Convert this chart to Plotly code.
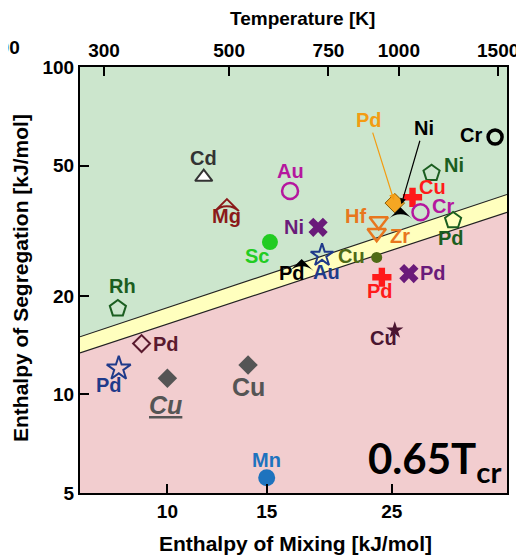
import numpy as np
import plotly.graph_objects as go

# ---------------- data ----------------
labels = ["Cd", "Mg", "Au", "Ni", "Sc", "Pd", "Au", "Cu", "Hf", "Zr",
          "Pd", "Ni", "Cu", "Cr", "Ni", "Cr", "Pd", "Pd", "Pd", "Cu",
          "Rh", "Pd", "Pd", "Cu", "Cu", "Mn"]
h_mix = [11.6, 12.75, 16.5, 18.5, 15.2, 17.3, 18.8, 23.5, 23.7, 23.5,
         25.3, 25.9, 27.2, 28.1, 29.4, 38.1, 32.1, 24.0, 26.8, 25.3,
         8.17, 9.0, 8.2, 10.0, 13.9, 15.0]
h_seg = [46.1, 39.5, 41.8, 32.4, 29.2, 25.9, 26.6, 26.2, 33.8, 31.1,
         38.4, 37.3, 40.0, 36.0, 47.4, 61.1, 34.0, 22.8, 23.4, 15.7,
         18.3, 14.3, 12.0, 11.2, 12.3, 5.57]

band_x = [7.0, 40.0]
band_upper = [15.0, 40.8]
band_lower = [13.4, 36.0]

x_ticks = [10, 15, 25]
y_ticks = [5, 10, 20, 50, 100]
t_ticks = [300, 500, 750, 1000, 1500]

# ---------------- styles ----------------
X_RANGE = [7.0, 40.0]
Y_RANGE = [5.0, 100.0]
T_RANGE = [272.0, 1555.0]

GREEN = "rgb(204,230,205)"
YELLOW = "rgb(255,255,190)"
PINK = "rgb(242,205,207)"

symbols = ["triangle-up", "arrow-wide-open", "circle-open", "x", "circle", "arrow-wide",
           "star-open", "circle", "triangle-down-open", "triangle-down-open",
           "diamond", "arrow-wide", "cross", "circle-open", "pentagon-open", "circle-open",
           "pentagon-open", "cross", "x", "star", "pentagon-open", "diamond-open",
           "star-open", "diamond", "diamond", "circle"]
mcolors = ["white", "#8B1A1A", "#B5179E", "#6A1B7A", "#22CC22", "black",
           "#1F3A8A", "#4F6B16", "#E8771E", "#E8771E",
           "#F5A623", "black", "#FF1A1A", "#B5179E", "#1B5E20", "black",
           "#1B5E20", "#FF1A1A", "#6A1B7A", "#4A1530", "#1B5E20", "#5A1A2E",
           "#1F3A8A", "#555555", "#555555", "#1E73BE"]
lcolors = ["#333333", "#8B1A1A", "#B5179E", "#6A1B7A", "#22CC22", "black",
           "#1F3A8A", "#4F6B16", "#E8771E", "#E8771E",
           "#8a5a00", "black", "#FF1A1A", "#B5179E", "#1B5E20", "black",
           "#1B5E20", "#FF1A1A", "#6A1B7A", "#4A1530", "#1B5E20", "#5A1A2E",
           "#1F3A8A", "#555555", "#555555", "#1E73BE"]
msizes = [15, 17, 16, 17, 16, 17, 17, 11, 16, 16, 15, 17, 16, 16, 17, 14,
          17, 16, 17, 13, 17, 13, 18, 15, 15, 17]
lwidths = [2, 2, 2.5, 0, 0, 0, 2, 0, 2.5, 2.5, 1, 0, 0, 2.5, 2, 3.5,
           2, 0, 0, 0, 2, 2, 2, 0, 0, 0]
tcolors = ["#333333", "#8B1A1A", "#B5179E", "#6A1B7A", "#22CC22", "black",
           "#1F3A8A", "#4F6B16", "#E8771E", "#E8771E",
           "#F39C12", "black", "#FF1A1A", "#B5179E", "#1B5E20", "black",
           "#1B5E20", "#FF1A1A", "#6A1B7A", "#4A1530", "#1B5E20", "#5A1A2E",
           "#1F3A8A", "#555555", "#555555", "#1E73BE"]
# label offsets in screen pixels (dx right, dy down)
offsets = [(0, -19), (0, 17), (0, -20), (-24, 0), (-13, 14), (-10, 14),
           (4, 17), (-25, -1), (-23, -5), (23, 3),
           None, None, (20, -10), (23, -6), (22, -8), (-24, -2),
           (-2, 18), (-2, 14), (24, -1), (-11, 8), (5, -23), (24, 0),
           (-10, 16), (-2, 27), (0, 22), (0, -18)]
tsizes = [20] * 26
tsizes[23] = 25
tsizes[24] = 25
FONT = "Liberation Sans, Arial, sans-serif"

# layout geometry (page has an 8px body margin)
W, H = 516, 552
ML, MR, MT, MB = 72, 17, 59, 67
PW, PH = W - ML - MR, H - MT - MB


def px_to_paper(sx, sy):
    """screen pixel -> paper coords"""
    fx, fy = sx - 8, sy - 8
    return (fx - ML) / PW, 1 - (fy - MT) / PH


fig = go.Figure()

# region fills
fig.add_trace(go.Scatter(
    x=band_x + band_x[::-1], y=band_upper + band_lower[::-1],
    fill="toself", fillcolor=YELLOW, mode="none", hoverinfo="skip", showlegend=False))
fig.add_trace(go.Scatter(
    x=band_x + band_x[::-1], y=band_lower + [Y_RANGE[0], Y_RANGE[0]],
    fill="toself", fillcolor=PINK, mode="none", hoverinfo="skip", showlegend=False))
for b in (band_upper, band_lower):
    fig.add_trace(go.Scatter(x=band_x, y=b, mode="lines",
                             line=dict(color="#222222", width=1.2),
                             hoverinfo="skip", showlegend=False))

# data points
for i in range(len(labels)):
    fig.add_trace(go.Scatter(
        x=[h_mix[i]], y=[h_seg[i]], mode="markers", showlegend=False,
        marker=dict(symbol=symbols[i], size=msizes[i], color=mcolors[i],
                    line=dict(color=lcolors[i], width=lwidths[i]))))

# dummy trace to activate top axis
fig.add_trace(go.Scatter(x=[t_ticks[2]], y=[h_seg[0]], xaxis="x2", mode="markers",
                         marker=dict(opacity=0), hoverinfo="skip", showlegend=False))

# labels
for i in range(len(labels)):
    txt = "<b>%s</b>" % labels[i]
    if i == 23:
        txt = "<b><i><u>Cu</u></i></b>"
    if offsets[i] is None:
        continue
    dx, dy = offsets[i]
    fig.add_annotation(x=np.log10(h_mix[i]), y=np.log10(h_seg[i]), text=txt,
                       showarrow=False, xshift=dx, yshift=-dy,
                       font=dict(family=FONT, size=tsizes[i], color=tcolors[i]))

# arrowed labels (orange Pd, black Ni)
fig.add_annotation(x=np.log10(h_mix[10]), y=np.log10(h_seg[10]), text="<b>Pd</b>",
                   showarrow=True, ax=-26, ay=-83, arrowhead=2, arrowsize=1,
                   arrowwidth=1.2, arrowcolor="#F39C12", standoff=3,
                   font=dict(family=FONT, size=20, color="#F39C12"))
fig.add_annotation(x=np.log10(h_mix[11]), y=np.log10(h_seg[11]), text="<b>Ni</b>",
                   showarrow=True, ax=23, ay=-79, arrowhead=2, arrowsize=1,
                   arrowwidth=1.2, arrowcolor="black", standoff=3,
                   font=dict(family=FONT, size=20, color="black"))

fig.add_annotation(xref="paper", yref="paper", x=0.99, y=0.005, xanchor="right",
                   yanchor="bottom", showarrow=False,
                   text="<b>0.65T<sub>cr</sub></b>",
                   font=dict(family="Lato, sans-serif", size=42, color="black"))

# partial top tick label (cut off at page edge)
px, py = px_to_paper(4, 47)
fig.add_annotation(xref="paper", yref="paper", x=px, y=py, showarrow=False,
                   xanchor="center", yanchor="middle",
                   text="<b>200</b>", font=dict(family=FONT, size=19, color="black"))

# axis titles
px, py = px_to_paper(302, 18)
fig.add_annotation(xref="paper", yref="paper", x=px, y=py, showarrow=False,
                   xanchor="center", yanchor="middle",
                   text="<b>Temperature [K]</b>",
                   font=dict(family=FONT, size=19, color="black"))
px, py = px_to_paper(295, 543)
fig.add_annotation(xref="paper", yref="paper", x=px, y=py, showarrow=False,
                   xanchor="center", yanchor="middle",
                   text="<b>Enthalpy of Mixing [kJ/mol]</b>",
                   font=dict(family=FONT, size=21, color="black"))
px, py = px_to_paper(20, 278)
fig.add_annotation(xref="paper", yref="paper", x=px, y=py, showarrow=False,
                   xanchor="center", yanchor="middle",
                   textangle=-90, text="<b>Enthalpy of Segregation [kJ/mol]</b>",
                   font=dict(family=FONT, size=21, color="black"))

axis_common = dict(type="log", ticks="inside", ticklen=9, tickwidth=1.5,
                   tickcolor="black", showgrid=False, zeroline=False,
                   showline=True, linecolor="black", linewidth=2, automargin=False,
                   tickfont=dict(family=FONT, size=19, color="black"))

fig.update_layout(
    width=W, height=H,
    margin=dict(l=ML, r=MR, t=MT, b=MB),
    paper_bgcolor="white", plot_bgcolor=GREEN,
    font=dict(family=FONT, color="black"),
    xaxis=dict(axis_common, range=np.log10(X_RANGE).tolist(),
               tickvals=x_ticks, ticktext=["<b>%d</b>" % v for v in x_ticks]),
    xaxis2=dict(axis_common, range=np.log10(T_RANGE).tolist(), overlaying="x",
                side="top", anchor="y",
                tickvals=t_ticks, ticktext=["<b>%d</b>" % v for v in t_ticks]),
    yaxis=dict(axis_common, range=np.log10(Y_RANGE).tolist(), mirror=True,
               tickvals=y_ticks, ticktext=["<b>%d</b>" % v for v in y_ticks]),
)

fig.write_html("out.html")
